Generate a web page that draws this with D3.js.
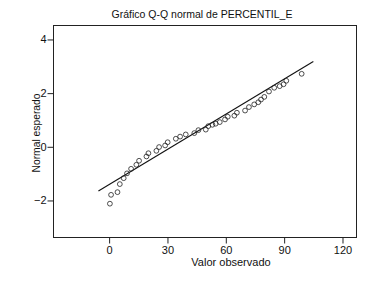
<!DOCTYPE html>
<html><head><meta charset="utf-8">
<script src="https://cdn.jsdelivr.net/npm/d3@7"></script>
<style>
body{margin:0;background:#fff;}
text{font-family:"Liberation Sans",Arial,sans-serif;fill:#111;}
</style></head>
<body><svg id="c" width="372" height="281"></svg>
<script>
const title = "Gráfico Q-Q normal de PERCENTIL_E";
const xLabel = "Valor observado";
const yLabel = "Normal esperado";
const xTicks = [0, 30, 60, 90, 120];
const yTicks = [-2, 0, 2, 4];
const observed = [0.4,1.0,4.3,5.5,7.5,9.2,11.3,14.0,15.4,19.2,20.2,24.3,25.7,28.8,30.1,34.3,36.5,39.4,43.8,45.9,49.7,51.0,53.1,54.8,56.9,59.6,61.0,64.4,65.7,69.9,71.9,74.6,76.7,78.1,79.8,82.2,84.9,87.7,89.7,91.1,99.0];
const expected = [-2.12,-1.79,-1.69,-1.39,-1.17,-0.99,-0.82,-0.67,-0.52,-0.36,-0.24,-0.15,-0.01,0.05,0.17,0.30,0.38,0.46,0.51,0.62,0.64,0.77,0.82,0.86,0.92,1.02,1.12,1.16,1.27,1.35,1.48,1.58,1.66,1.76,1.86,2.06,2.20,2.26,2.33,2.46,2.72];
const refLineX = [-5.5, 105];
const refLineY = [-1.65, 3.18];

const L=53.5, R=356.5, T=25.5, B=237.5;
const x = d3.scaleLinear().domain([-28.6,127.2]).range([L,R]);
const y = d3.scaleLinear().domain([-3.38,4.52]).range([B,T]);
const svg = d3.select("#c");

svg.append("rect").attr("x",L).attr("y",T).attr("width",R-L).attr("height",B-T)
  .attr("fill","none").attr("stroke","#222").attr("stroke-width",1);

const gx = svg.append("g").attr("transform",`translate(0,${B})`)
  .call(d3.axisBottom(x).tickValues(xTicks).tickSize(6).tickPadding(3).tickFormat(d3.format("d")));
const gy = svg.append("g").attr("transform",`translate(${L},0)`)
  .call(d3.axisLeft(y).tickValues(yTicks).tickSize(6).tickPadding(1).tickFormat(d3.format("d")));
[gx,gy].forEach(g=>{
  g.select(".domain").remove();
  g.selectAll("line").attr("stroke","#222");
  g.selectAll("text").attr("font-size",11).attr("font-family","Liberation Sans, Arial, sans-serif").attr("fill","#111");
});

svg.append("line")
  .attr("x1",x(refLineX[0])).attr("y1",y(refLineY[0]))
  .attr("x2",x(refLineX[1])).attr("y2",y(refLineY[1]))
  .attr("stroke","#111").attr("stroke-width",1.1);

svg.append("g").selectAll("circle").data(observed.map((v,i)=>[v,expected[i]]))
  .join("circle").attr("cx",d=>x(d[0])).attr("cy",d=>y(d[1])).attr("r",2.4)
  .attr("fill","none").attr("stroke","#222").attr("stroke-width",0.8);

svg.append("text").attr("x",202).attr("y",18).attr("text-anchor","middle")
  .attr("font-size",10.5).text(title);
svg.append("text").attr("x",231).attr("y",266).attr("text-anchor","middle")
  .attr("font-size",11).text(xLabel);
svg.append("text").attr("transform",`translate(40,133) rotate(-90)`).attr("text-anchor","middle")
  .attr("font-size",10.3).text(yLabel);
</script></body></html>
